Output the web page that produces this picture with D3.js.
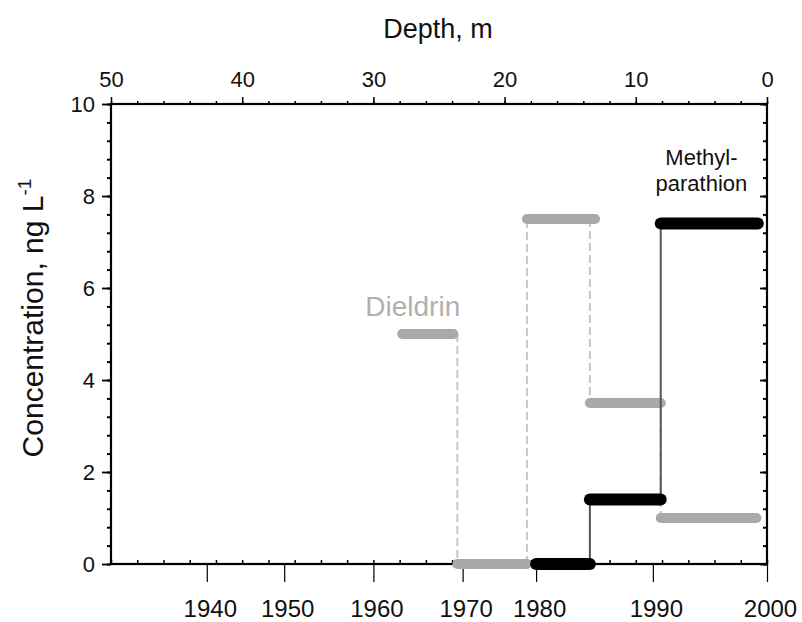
<!DOCTYPE html>
<html>
<head>
<meta charset="utf-8">
<script src="https://cdn.jsdelivr.net/npm/d3@7"></script>
<style>
  body { margin: 0; background: #fff; }
  svg { font-family: "Liberation Sans", Arial, sans-serif; }
  .axis path, .axis line { stroke: #000; }
</style>
</head>
<body>
<script>
// depth (m) along the top, a nonlinear year scale below
var depthTicks = [50, 40, 30, 20, 10, 0];
var yearLabels = ["1940", "1950", "1960", "1970", "1980", "1990", "2000"];
var yearDepths = [42.7, 36.8, 30.0, 23.2, 17.6, 8.7, 0];
var concTicks = [0, 2, 4, 6, 8, 10];

// step segments, read in depth units
var dieldrinStart = [27.8, 23.6, 18.3, 13.5, 8.1];
var dieldrinEnd   = [23.9, 18.3, 13.1, 8.1, 0.8];
var dieldrinValue = [5.0, 0, 7.5, 3.5, 1.0];

var methylStart = [17.6, 13.5, 8.1];
var methylEnd   = [13.5, 8.1, 0.7];
var methylValue = [0, 1.4, 7.4];

(function(){
    var width = 802, height = 622;
    var left = 111, right = 767, top = 104, bottom = 564;

    var svg = d3.select("body").append("svg")
        .attr("width", width)
        .attr("height", height);

    var x = d3.scaleLinear().domain([50, 0]).range([left, right]);
    var y = d3.scaleLinear().domain([0, 10]).range([bottom, top]);

    // minor tick arrays
    var depthMinor = d3.range(0, 51, 2);
    var concMinor = d3.range(0, 10.01, 0.4).map(function(v){ return +v.toFixed(1); });

    function styleAxis(g, lw, fs){
        g.select(".domain").remove();
        g.selectAll("line").attr("stroke-width", lw);
        g.selectAll("text").attr("font-size", fs || 22).attr("fill", "#111");
    }

    // top axis: labels + outward ticks
    svg.append("g").attr("class", "axis")
        .attr("transform", "translate(0," + top + ")")
        .call(d3.axisTop(x).tickValues(depthTicks).tickSize(7).tickPadding(10).tickFormat(d3.format("d")))
        .call(styleAxis, 1.5);
    svg.append("g").attr("class", "axis")
        .attr("transform", "translate(0," + top + ")")
        .call(d3.axisTop(x).tickValues(depthMinor).tickSize(3).tickFormat(""))
        .call(styleAxis, 1.5);

    // bottom frame: depth minor ticks inward, year ticks outward
    svg.append("g").attr("class", "axis")
        .attr("transform", "translate(0," + bottom + ")")
        .call(d3.axisTop(x).tickValues(depthMinor).tickSize(4).tickFormat(""))
        .call(styleAxis, 1.5);
    svg.append("g").attr("class", "axis")
        .attr("transform", "translate(0," + bottom + ")")
        .call(d3.axisBottom(x).tickValues(yearDepths).tickSize(18).tickPadding(18)
            .tickFormat(function(d, i){ return yearLabels[i]; }))
        .call(styleAxis, 1.2, 24)
        .call(function(g){
            g.selectAll("line").attr("stroke", "#444");
            g.selectAll("text").attr("x", 3);
        });

    // left axis
    svg.append("g").attr("class", "axis")
        .attr("transform", "translate(" + left + ",0)")
        .call(d3.axisLeft(y).tickValues(concTicks).tickSize(9).tickPadding(7))
        .call(styleAxis, 1.8);
    svg.append("g").attr("class", "axis")
        .attr("transform", "translate(" + left + ",0)")
        .call(d3.axisLeft(y).tickValues(concMinor).tickSize(4).tickFormat(""))
        .call(styleAxis, 2);

    // right frame, inward ticks
    svg.append("g").attr("class", "axis")
        .attr("transform", "translate(" + right + ",0)")
        .call(d3.axisRight(y).tickValues(concMinor).tickSize(-4).tickFormat(""))
        .call(styleAxis, 2);
    svg.append("g").attr("class", "axis")
        .attr("transform", "translate(" + right + ",0)")
        .call(d3.axisRight(y).tickValues(concTicks).tickSize(-7).tickFormat(""))
        .call(styleAxis, 1.8);

    // frame
    svg.append("rect")
        .attr("x", left).attr("y", top)
        .attr("width", right - left).attr("height", bottom - top)
        .attr("fill", "none").attr("stroke", "#000").attr("stroke-width", 2.2);

    // titles
    svg.append("text")
        .attr("x", 438).attr("y", 38)
        .attr("text-anchor", "middle").attr("font-size", 27).attr("fill", "#111")
        .text("Depth, m");

    var yt = svg.append("text")
        .attr("transform", "translate(43,318) rotate(-90)")
        .attr("text-anchor", "middle").attr("font-size", 30).attr("fill", "#111");
    yt.append("tspan").text("Concentration, ng L");
    yt.append("tspan").attr("dy", -12).attr("font-size", 19).text("-1");

    // dieldrin dashed connectors
    for (var i = 1; i < dieldrinValue.length; i++){
        svg.append("line")
            .attr("x1", x(dieldrinStart[i])).attr("x2", x(dieldrinStart[i]))
            .attr("y1", y(dieldrinValue[i - 1])).attr("y2", y(dieldrinValue[i]))
            .attr("stroke", "#c6c6c6").attr("stroke-width", 2)
            .attr("stroke-dasharray", "8,4");
    }
    // dieldrin bars
    svg.selectAll(".dieldrin")
        .data(dieldrinValue)
        .enter()
        .append("line")
        .attr("class", "dieldrin")
        .attr("x1", function(d, i){ return x(dieldrinStart[i]); })
        .attr("x2", function(d, i){ return x(dieldrinEnd[i]); })
        .attr("y1", function(d){ return y(d); })
        .attr("y2", function(d){ return y(d); })
        .attr("stroke", "#a9a9a9").attr("stroke-width", 10)
        .attr("stroke-linecap", "round");

    // methyl-parathion solid connectors
    for (var j = 1; j < methylValue.length; j++){
        svg.append("line")
            .attr("x1", x(methylStart[j])).attr("x2", x(methylStart[j]))
            .attr("y1", y(methylValue[j - 1])).attr("y2", y(methylValue[j]))
            .attr("stroke", "#555").attr("stroke-width", 2);
    }
    svg.selectAll(".methyl")
        .data(methylValue)
        .enter()
        .append("line")
        .attr("class", "methyl")
        .attr("x1", function(d, i){ return x(methylStart[i]); })
        .attr("x2", function(d, i){ return x(methylEnd[i]); })
        .attr("y1", function(d){ return y(d); })
        .attr("y2", function(d){ return y(d); })
        .attr("stroke", "#000").attr("stroke-width", 12)
        .attr("stroke-linecap", "round");

    // labels
    svg.append("text")
        .attr("x", x(27.0)).attr("y", y(5.4))
        .attr("text-anchor", "middle").attr("font-size", 28).attr("fill", "#b0b0b0")
        .text("Dieldrin");
    var ml = svg.append("text")
        .attr("text-anchor", "middle").attr("font-size", 22).attr("fill", "#111");
    ml.append("tspan").attr("x", x(5.0)).attr("y", y(8.68)).text("Methyl-");
    ml.append("tspan").attr("x", x(5.0)).attr("y", y(8.1)).text("parathion");
})();
</script>
</body>
</html>
